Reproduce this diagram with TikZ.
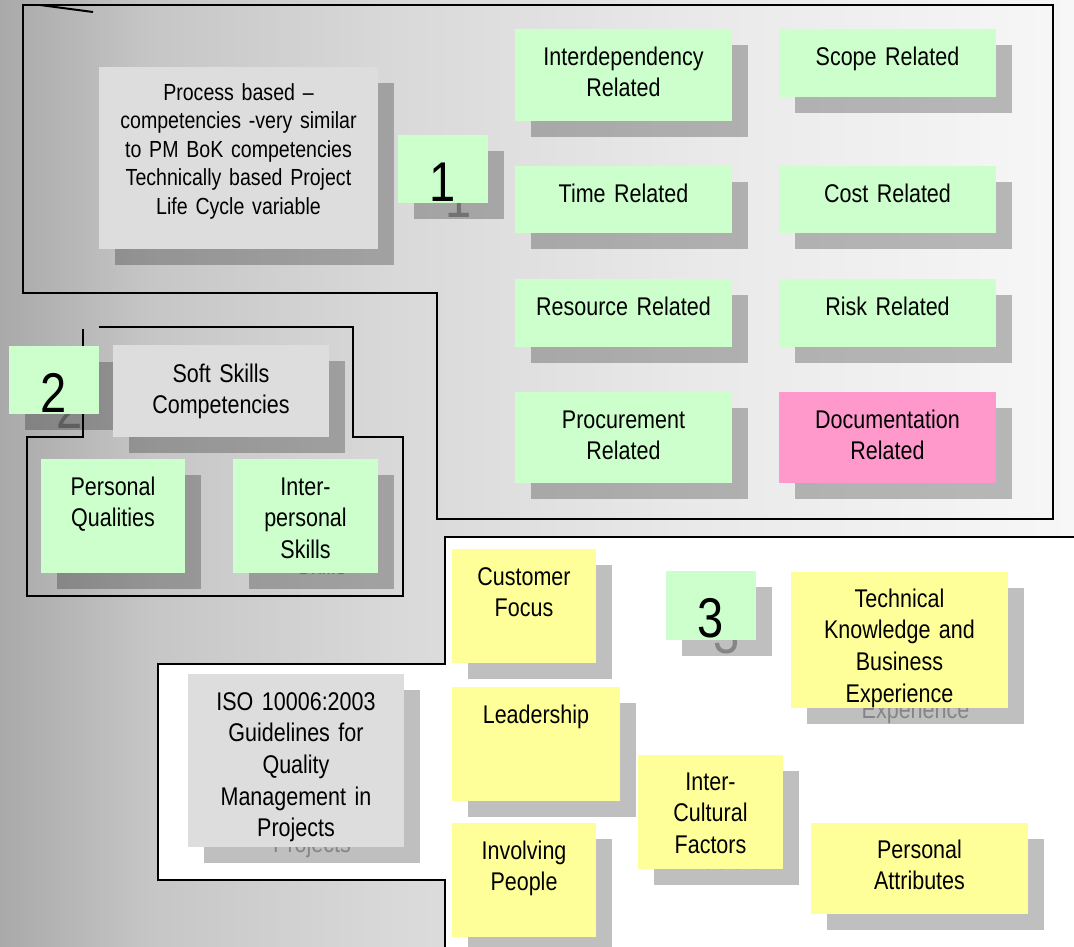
\documentclass[tikz,border=0pt]{standalone}
\usepackage{fontspec}
\setmainfont{Liberation Sans}[FakeStretch=0.84]
\definecolor{bgA}{HTML}{A9A9A9}
\definecolor{bgB}{HTML}{C6C6C6}
\definecolor{bgC}{HTML}{D9D9D9}
\definecolor{bgD}{HTML}{E9E9E9}
\definecolor{bgE}{HTML}{F7F7F7}
\definecolor{gbox}{HTML}{CCFFCC}
\definecolor{ybox}{HTML}{FFFF99}
\definecolor{pbox}{HTML}{FF99CC}
\definecolor{qbox}{HTML}{DDDDDD}
\pgfdeclarehorizontalshading{bgshade}{100bp}{color(0bp)=(bgA); color(25bp)=(bgA); color(32bp)=(bgB); color(43.5bp)=(bgC); color(57.5bp)=(bgD); color(75bp)=(bgE); color(100bp)=(bgE)}
\tikzset{
  boxbase/.style={rectangle, anchor=north west, inner sep=0pt, outer sep=0pt, align=center, text=black},
  fnorm/.style={font=\fontsize{25.6}{31.7}\selectfont},
  fproc/.style={font=\fontsize{23.3}{28.6}\selectfont},
  fdig/.style={font=\fontsize{56}{60}\selectfont},
  green/.style={fill=gbox},
  yellow/.style={fill=ybox},
  pink/.style={fill=pbox},
  grey/.style={fill=qbox},
  ghost/.style={fill=black, fill opacity=0.25, text=black, text opacity=0.3},
  region/.style={draw=black, line width=2.2pt, line join=miter},
}
% #1 name, #2 x, #3 y, #4 w, #5 h, #6 style, #7 first-baseline offset, #8 text, #9 visible shadow text
\newcommand\pbx[9]{%
  \pgfmathsetmacro\bxD{#5-#7}%
  \node[boxbase, #6, ghost, text height=#7pt, text depth=\bxD pt, text width=#4pt] (#1s) at (#2+16,#3+16) {#9};
  \node[boxbase, #6, text height=#7pt, text depth=\bxD pt, text width=#4pt] (#1) at (#2,#3) {#8};
}
\begin{document}
\begin{tikzpicture}[x=1pt, y=-1pt]
\useasboundingbox (0,0) rectangle (1074,946);
\clip (0,0) rectangle (1074,946);
\shade[shading=bgshade] (0,0) rectangle (1074,946);
% region 3 (white)
\fill[white] (445,537) -- (1090,537) -- (1090,960) -- (445,960) -- (445,880) -- (158,880) -- (158,664) -- (445,664) -- cycle;
\draw[region] (1090,537) -- (445,537) -- (445,664) -- (158,664) -- (158,880) -- (445,880) -- (445,960);
% region 1
\draw[region] (23,5) -- (1053,5) -- (1053,519) -- (437,519) -- (437,293) -- (23,293) -- cycle;
\draw[black, line width=2pt] (40,5) -- (93,12);
% region 2
\draw[region] (83,329) -- (83,437) -- (27,437) -- (27,596) -- (403,596) -- (403,437) -- (353,437) -- (353,327) -- (99,327);
% region 1 boxes
\pbx{proc}{99}{67}{279}{182}{grey, fproc}{33}{Process based –\\competencies -very similar\\to PM BoK competencies\\Technically based Project\\Life Cycle variable}{}
\pbx{one}{398}{135}{90}{68}{green, fdig}{66}{1}{1}
\pbx{inter}{515}{29}{217}{92}{green, fnorm}{36}{Interdependency\\Related}{}
\pbx{scope}{779}{29}{217}{68}{green, fnorm}{36}{Scope Related}{}
\pbx{time}{515}{166}{217}{67}{green, fnorm}{36}{Time Related}{}
\pbx{cost}{779}{166}{217}{67}{green, fnorm}{36}{Cost Related}{}
\pbx{res}{515}{279}{217}{68}{green, fnorm}{36}{Resource Related}{}
\pbx{risk}{779}{279}{217}{68}{green, fnorm}{36}{Risk Related}{}
\pbx{procu}{515}{392}{217}{91}{green, fnorm}{36}{Procurement\\Related}{}
\pbx{doc}{779}{392}{217}{91}{pink, fnorm}{36}{Documentation\\Related}{}
% region 2 boxes
\pbx{two}{9}{346}{90}{68}{green, fdig}{66}{2}{2}
\pbx{soft}{113}{345}{216}{92}{grey, fnorm}{37}{Soft Skills\\Competencies}{}
\pbx{pq}{41}{459}{144}{114}{green, fnorm}{36}{Personal\\Qualities}{}
\pbx{ips}{233}{459}{145}{114}{green, fnorm}{36}{Inter-\\personal\\Skills}{\phantom{Inter-}\\\phantom{personal}\\Skills}
% region 3 boxes
\pbx{cf}{452}{549}{144}{114}{yellow, fnorm}{36}{Customer\\Focus}{}
\pbx{iso}{188}{674}{216}{173}{grey, fnorm}{36}{ISO 10006:2003\\Guidelines for\\Quality\\Management in\\Projects}{\phantom{ISO}\\\phantom{Guidelines}\\\phantom{Quality}\\\phantom{Management}\\Projects}
\pbx{lead}{452}{687}{168}{114}{yellow, fnorm}{36}{Leadership}{}
\pbx{ip}{452}{823}{144}{114}{yellow, fnorm}{36}{Involving\\People}{}
\pbx{three}{666}{571}{90}{69}{green, fdig}{66}{3}{3}
\pbx{tech}{791}{572}{217}{136}{yellow, fnorm}{35}{Technical\\Knowledge and\\Business\\Experience}{\phantom{Technical}\\\phantom{Knowledge}\\\phantom{Business}\\Experience}
\pbx{icf}{638}{755}{145}{114}{yellow, fnorm}{35}{Inter-\\Cultural\\Factors}{\phantom{Inter-}\\\phantom{Cultural}\\Factors}
\pbx{pa}{811}{823}{217}{91}{yellow, fnorm}{35}{Personal\\Attributes}{}
\end{tikzpicture}
\end{document}
